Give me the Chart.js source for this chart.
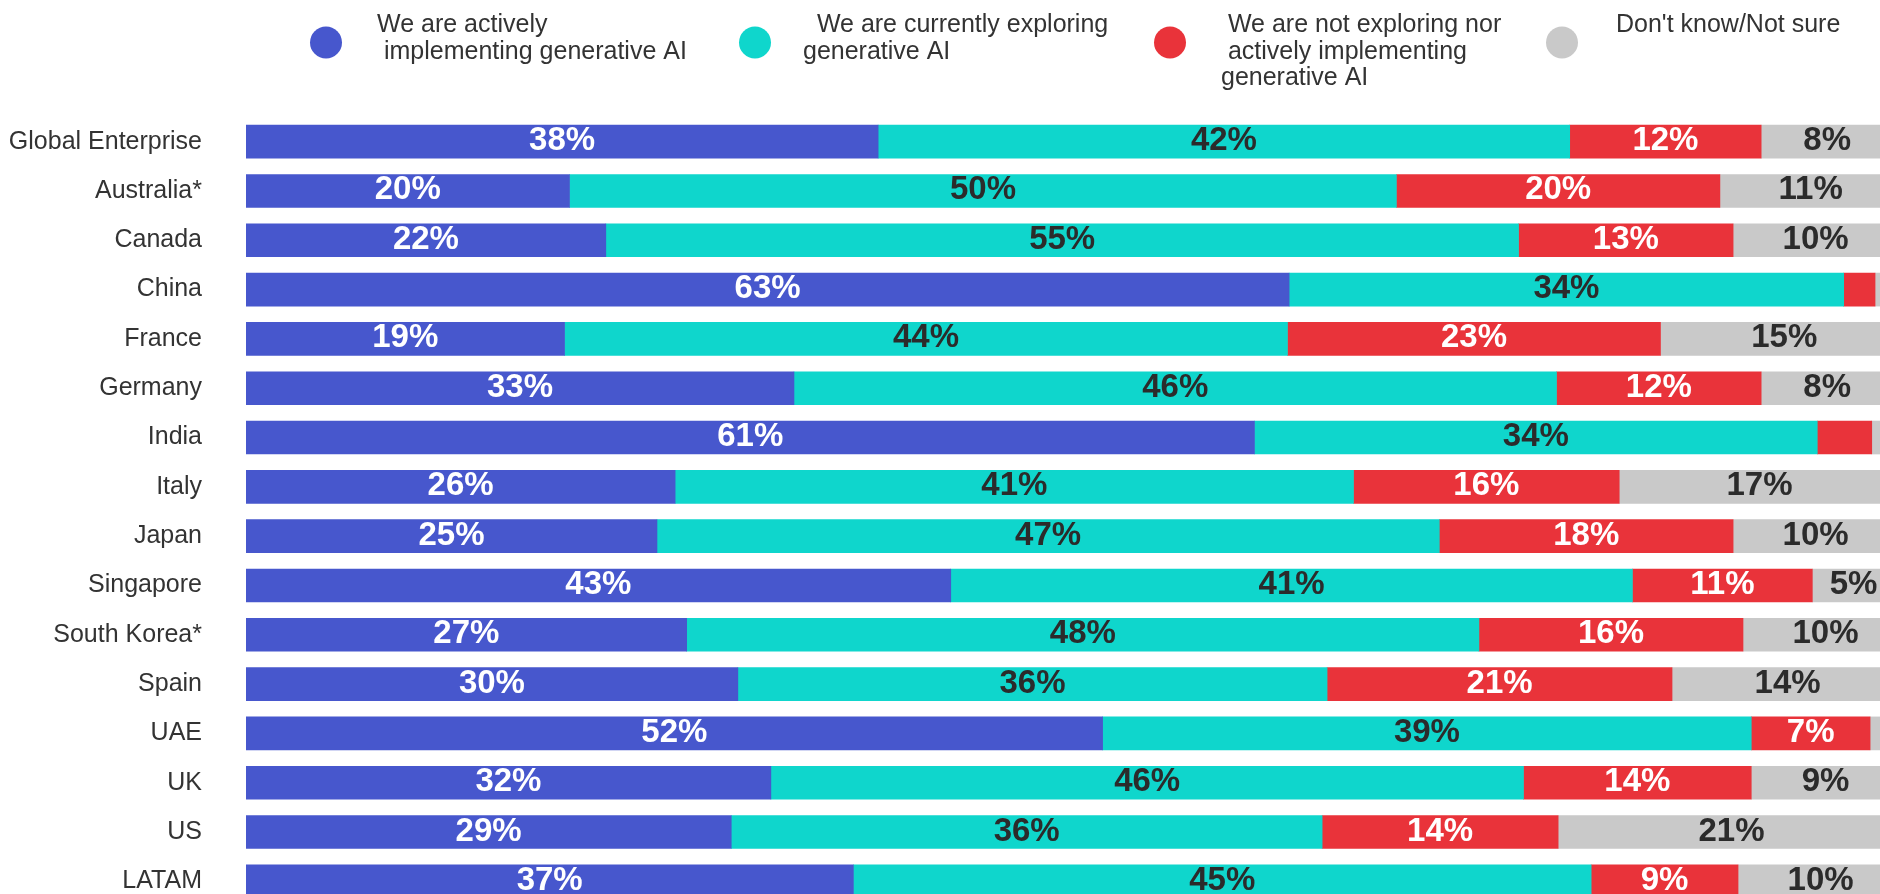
<!DOCTYPE html>
<html>
<head>
<meta charset="utf-8">
<script src="https://cdn.jsdelivr.net/npm/chart.js@4.4.1/dist/chart.umd.min.js"></script>
<style>
  html, body { margin: 0; padding: 0; background: #fff; overflow: hidden; }
  canvas { display: block; }
</style>
</head>
<body>
<canvas class="myChart" width="1880" height="906"></canvas>
<script>
const countries = ["Global Enterprise", "Australia*", "Canada", "China", "France", "Germany", "India", "Italy",
  "Japan", "Singapore", "South Korea*", "Spain", "UAE", "UK", "US", "LATAM"];

// % of respondents
const implementing = [38.3, 19.6, 21.8, 63.2, 19.3, 33.2, 61.1, 26.0, 24.9, 42.7, 26.7, 29.8, 51.9, 31.8, 29.4, 36.8];
const exploring = [41.9, 50.1, 55.3, 33.6, 43.8, 46.2, 34.1, 41.1, 47.4, 41.3, 48.0, 35.7, 39.3, 45.6, 35.8, 44.7];
const notExploring = [11.6, 19.6, 13.0, 1.9, 22.6, 12.4, 3.3, 16.1, 17.8, 10.9, 16.0, 20.9, 7.2, 13.8, 14.3, 8.9];
const notSure = [8, 11, 10, 1.3, 15, 8, 1.6, 17, 10, 5, 10, 14, 1.5, 9, 21, 10];

const seriesNames = [
  ["We are actively", " implementing generative AI"],
  ["  We are currently exploring", "generative AI"],
  [" We are not exploring nor", " actively implementing", "generative AI"],
  ["Don't know/Not sure"],
];
const colors = ["#4757cd", "#0fd6cc", "#e9333a", "#c9c9c9"];
const valueColors = ["#ffffff", "#2b2b2b", "#ffffff", "#2b2b2b"];

const font = "'Liberation Sans', Arial, sans-serif";

// percent labels inside the segments
const valueLabels = {
  id: "valueLabels",
  afterDatasetsDraw(chart) {
    const c = chart.ctx;
    c.save();
    c.font = "bold 33px " + font;
    c.textAlign = "center";
    c.textBaseline = "alphabetic";
    chart.data.datasets.forEach((ds, i) => {
      const meta = chart.getDatasetMeta(i);
      meta.data.forEach((bar, j) => {
        const v = ds.data[j];
        if (v < 4) return;
        c.fillStyle = valueColors[i];
        c.fillText(Math.round(v) + "%", (bar.x + bar.base) / 2, bar.y + 8.5);
      });
    });
    c.restore();
  },
};

// legend drawn by hand because of the multi-line labels
const topLegend = {
  id: "topLegend",
  afterDraw(chart) {
    const c = chart.ctx;
    const dotX = [326, 755, 1170, 1562];
    const textX = [377, 803, 1221, 1616];
    c.save();
    c.font = "25px " + font;
    c.textBaseline = "alphabetic";
    c.textAlign = "left";
    seriesNames.forEach((lines, i) => {
      c.fillStyle = colors[i];
      c.beginPath();
      c.arc(dotX[i], 42.5, 16, 0, Math.PI * 2);
      c.fill();
      c.fillStyle = "#333333";
      lines.forEach((line, k) => {
        c.fillText(line, textX[i], 32 + k * 26.5);
      });
    });
    c.restore();
  },
};

const series = [implementing, exploring, notExploring, notSure];

const ctx = document.querySelector(".myChart");

new Chart(ctx, {
  type: "bar",
  data: {
    labels: countries,
    datasets: series.map((d, i) => ({
      label: seriesNames[i].join(" ").trim(),
      data: d,
      backgroundColor: colors[i],
      borderWidth: 0,
      barThickness: 33,
    })),
  },
  options: {
    indexAxis: "y",
    responsive: false,
    animation: false,
    layout: { padding: { top: 117, left: 0, right: 0, bottom: 0 } },
    plugins: {
      legend: { display: false },
      tooltip: { enabled: false },
    },
    scales: {
      x: {
        stacked: true,
        display: false,
        min: 0,
        max: 99,
      },
      y: {
        stacked: true,
        grid: { display: false, drawTicks: false },
        border: { display: false },
        ticks: {
          color: "#333333",
          padding: 44,
          font: { family: font, size: 25 },
        },
        afterFit(scale) {
          // fixed label column; tick padding must not eat vertical space
          scale.width = 246;
          scale.paddingTop = 0;
          scale.paddingBottom = 0;
        },
      },
    },
  },
  plugins: [valueLabels, topLegend],
});
</script>
</body>
</html>
